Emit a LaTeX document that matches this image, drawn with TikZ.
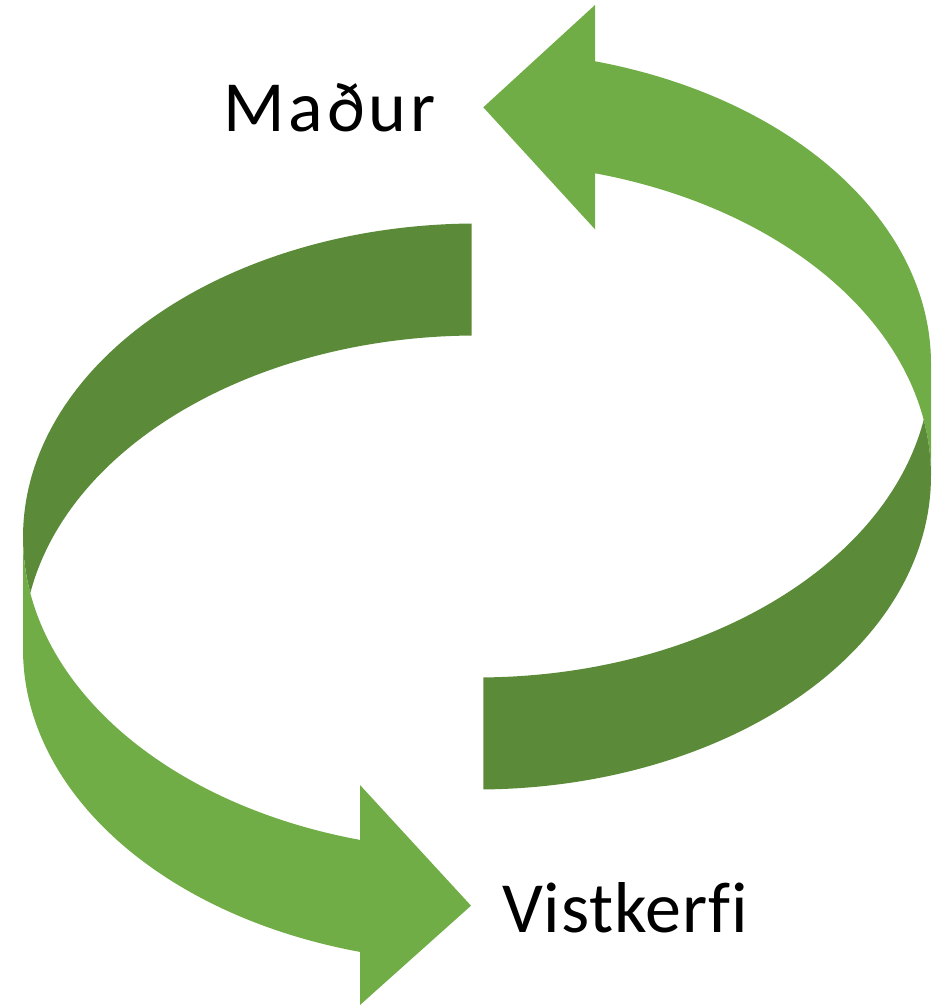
\documentclass[tikz,border=0pt]{standalone}
\usepackage{fontspec}
\setmainfont{Carlito}[Ligatures=CommonOff]
\usetikzlibrary{calc}
\definecolor{lightg}{HTML}{70AD47}
\definecolor{darkg}{HTML}{5B8B39}
\begin{document}
\begin{tikzpicture}[x=1pt,y=1pt,
  lab/.style={inner sep=0pt, anchor=base west, font=\fontsize{72}{86}\selectfont},
  darkpart/.style={fill=darkg},
  lightpart/.style={fill=lightg},
  ell/.style={x radius=454pt, y radius=313.5pt}]
\useasboundingbox (0,0) rectangle (946,1006);
% right arrow (upper ellipse RU, lower ellipse RL)
\coordinate (RU) at (477,642);
\coordinate (RL) at (477,530);
\fill[lightpart] ($(RL)+(74.93:454pt and 313.5pt)$) -- (595,776.7) -- (483.3,898.7) -- (595,1001)
  -- ($(RU)+(74.93:454pt and 313.5pt)$) arc[start angle=74.93, end angle=0, ell]
  -- ($(RL)+(454pt,0pt)$) arc[start angle=0, end angle=74.93, ell] -- cycle;
\fill[darkpart] ($(RL)+(-89.2:454pt and 313.5pt)$) arc[start angle=-89.2, end angle=10.29, ell]
  -- ($(RU)+(-10.29:454pt and 313.5pt)$) arc[start angle=-10.29, end angle=-89.2, ell] -- cycle;
% left arrow (upper ellipse LU, lower ellipse LL)
\coordinate (LU) at (477,469);
\coordinate (LL) at (477,357);
\fill[darkpart] ($(LU)+(90.67:454pt and 313.5pt)$) arc[start angle=90.67, end angle=190.29, ell]
  -- ($(LL)+(169.71:454pt and 313.5pt)$) arc[start angle=169.71, end angle=90.67, ell] -- cycle;
\fill[lightpart] ($(LU)+(180:454pt and 313.5pt)$) arc[start angle=180, end angle=255.07, ell]
  -- (360,221) -- (471,100.3) -- (360,1)
  -- ($(LL)+(255.07:454pt and 313.5pt)$) arc[start angle=255.07, end angle=180, ell] -- cycle;
% labels
\node[lab] (madur) at (223,874.3) {\addfontfeature{LetterSpace=5.5}Maður};
\node[lab] (vist) at (502,73) {\addfontfeature{LetterSpace=1.2}Vistkerfi};
\end{tikzpicture}
\end{document}
